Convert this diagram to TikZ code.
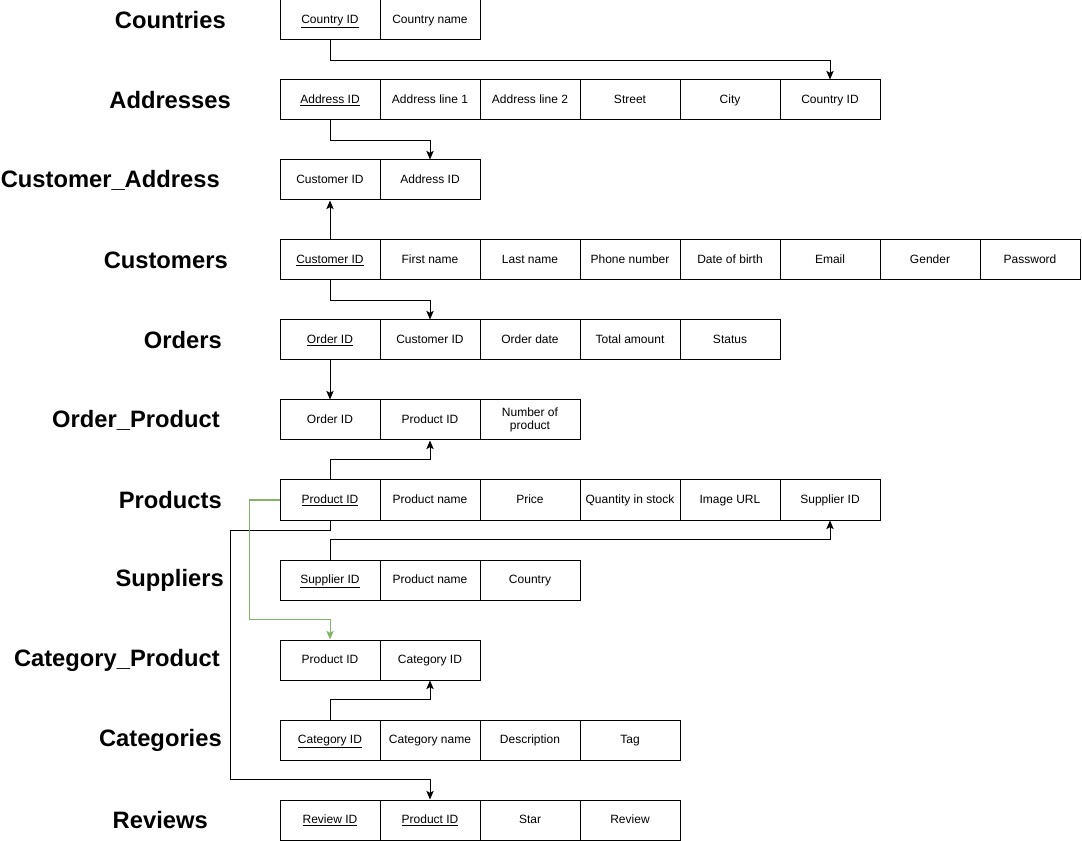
\documentclass[tikz,border=0pt]{standalone}
\usepackage{fontspec}
\setmainfont{Liberation Sans}
\usetikzlibrary{arrows.meta}
\definecolor{drawgreen}{RGB}{130,179,102}
\newcommand\erdrow[3]{\foreach \txt [count=\c from 0] in {#3} {\node[cell] (#1\c) at ({330+100*\c},{80*#2+20}) {\txt};}}
\begin{document}
\begin{tikzpicture}[x=0.75pt,y=-0.75pt,
  cell/.style={draw, line width=0.75pt, minimum width=75pt, minimum height=30pt, inner sep=0pt,
    text height=6.6pt, text depth=1.9pt,
    font=\fontsize{9}{10.5}\selectfont, align=center},
  lbl/.style={anchor=east, inner sep=0pt, font=\fontsize{17.8}{20}\selectfont\bfseries},
  conn/.style={line width=0.75pt, -{Stealth[length=6.5pt,width=5.5pt,inset=1.5pt]}},
  gconn/.style={line width=0.75pt, draw=drawgreen, -{Stealth[length=6.5pt,width=5.5pt,inset=1.5pt,fill=drawgreen]}}]
\fill[white] (0,0) rectangle (1082,841);
\useasboundingbox (0,0) rectangle (1082,841);
% labels
\node[lbl] (Lcty) at (226,20) {Countries};
\node[lbl] (Ladr) at (231,100) {Addresses};
\node[lbl] (Lca)  at (220,180) {Customer\_Address};
\node[lbl] (Lcus) at (228,260) {Customers};
\node[lbl] (Lord) at (222,340) {Orders};
\node[lbl] (Lop)  at (220,420) {Order\_Product};
\node[lbl] (Lprd) at (222,500) {Products};
\node[lbl] (Lsup) at (224,580) {Suppliers};
\node[lbl] (Lcp)  at (220,660) {Category\_Product};
\node[lbl] (Lcat) at (222,740) {Categories};
\node[lbl] (Lrev) at (208,820) {Reviews};
% tables
\erdrow{cty}{0}{\underline{Country ID}, Country name}
\erdrow{adr}{1}{\underline{Address ID}, Address line 1, Address line 2, Street, City, Country ID}
\erdrow{ca}{2}{Customer ID, Address ID}
\erdrow{cus}{3}{\underline{Customer ID}, First name, Last name, Phone number, Date of birth, Email, Gender, Password}
\erdrow{ord}{4}{\underline{Order ID}, Customer ID, Order date, Total amount, Status}
\erdrow{op}{5}{Order ID, Product ID, {\begin{tabular}{@{}c@{}}Number of\\[-1pt]product\end{tabular}}}
\erdrow{prd}{6}{\underline{Product ID}, Product name, Price, Quantity in stock, Image URL, Supplier ID}
\erdrow{sup}{7}{\underline{Supplier ID}, Product name, Country}
\erdrow{cp}{8}{Product ID, Category ID}
\erdrow{cat}{9}{\underline{Category ID}, Category name, Description, Tag}
\erdrow{rev}{10}{\underline{Review ID}, \underline{Product ID}, Star, Review}
% connectors
\draw[conn] (cty0.south) -- ++(0,20) -| (adr5.north);
\draw[conn] (adr0.south) -- ++(0,20) -| (ca1.north);
\draw[conn] (cus0.north) -- (ca0.south);
\draw[conn] (cus0.south) -- ++(0,20) -| (ord1.north);
\draw[conn] (ord0.south) -- (op0.north);
\draw[conn] (prd0.north) -- ++(0,-20) -| (op1.south);
\draw[conn] (sup0.north) -- ++(0,-20) -| (prd5.south);
\draw[conn] (cat0.north) -- ++(0,-20) -| (cp1.south);
\draw[conn] (prd0.south) -- ++(0,10) -- ++(-100,0) |- ([yshift=15pt]rev1.north) -- (rev1.north);
\draw[gconn] (prd0.west) -- ++(-30,0) |- ([yshift=15pt]cp0.north) -- (cp0.north);
\end{tikzpicture}
\end{document}
